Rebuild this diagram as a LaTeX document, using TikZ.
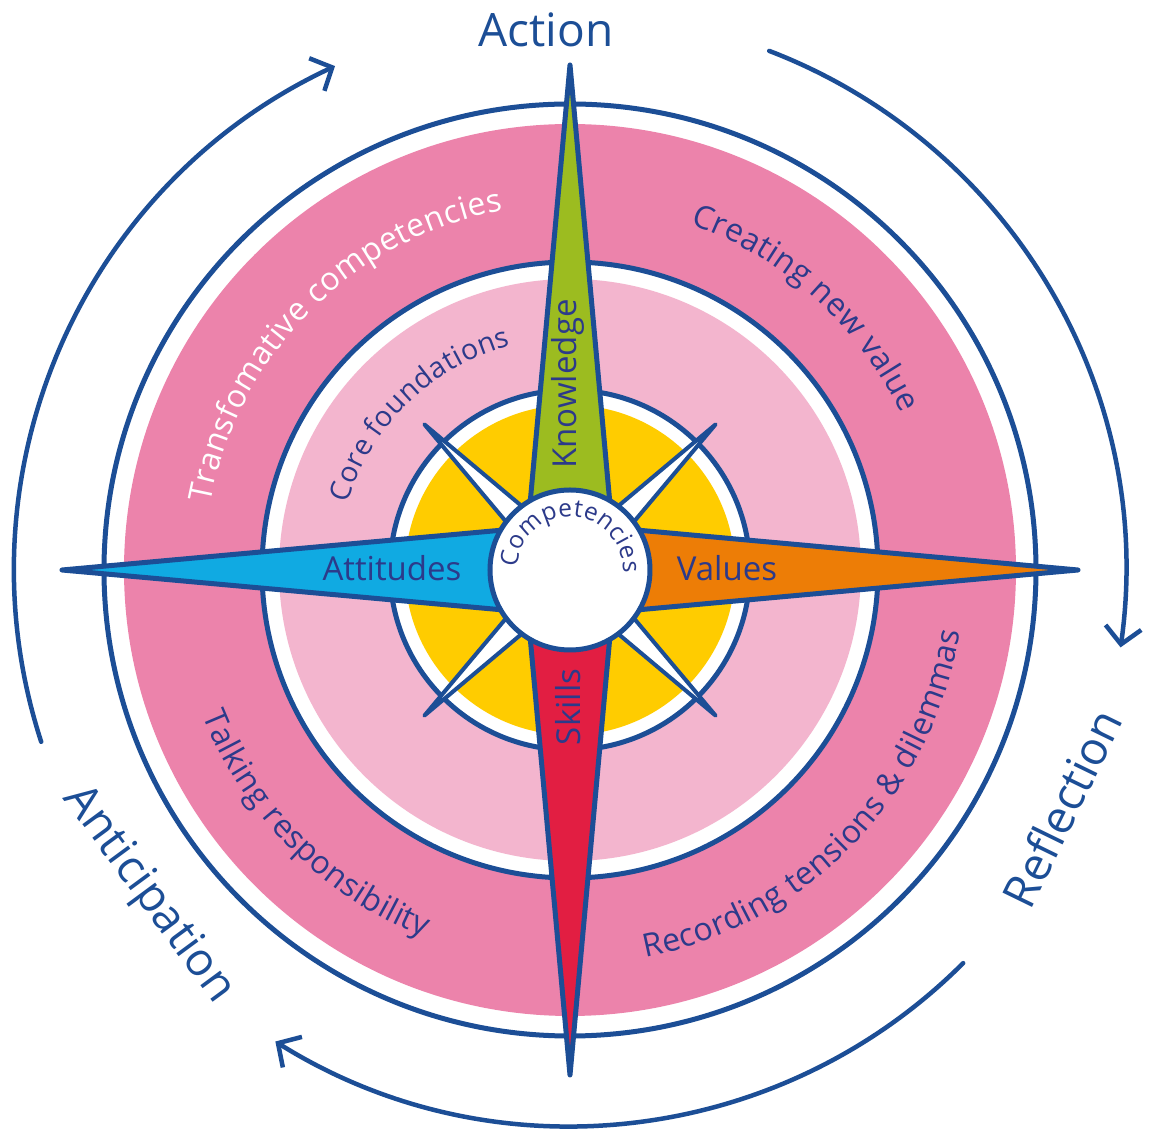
\documentclass[tikz,border=0pt]{standalone}
\usepackage{fontspec}
\setmainfont{Open Sans}
\usetikzlibrary{arrows.meta}
\definecolor{cblue}{RGB}{28,78,150}
\definecolor{tnavy}{RGB}{44,58,138}
\definecolor{pinkdark}{RGB}{236,131,171}
\definecolor{pinklight}{RGB}{243,181,206}
\definecolor{cyellow}{RGB}{255,204,0}
\definecolor{cgreen}{RGB}{156,188,32}
\definecolor{ccyan}{RGB}{16,170,226}
\definecolor{corange}{RGB}{237,125,6}
\definecolor{cred}{RGB}{226,30,66}
\newcommand\ringfont{\fontsize{32}{32}\selectfont}
\newcommand\corefont{\fontsize{28.5}{28.5}\selectfont}
\newcommand\compfont{\fontsize{24.5}{24.5}\selectfont}
% #1 font, #2 colour, #3 radius (pt), #4 centre angle,
% #5 dir (1 = clockwise, tops out; -1 = counter-clockwise, tops in), #6 chars
\newcommand\arcchars[6]{%
  \xdef\arctot{0}%
  \foreach \ch in {#6}{%
    \path (0,0) node[font=#1,inner sep=0pt,anchor=west] (arcm) {\phantom{\ch}};
    \path (arcm.east); \pgfgetlastxy{\arcex}{\arcey}%
    \pgfmathsetmacro\arctmp{\arctot+\arcex}%
    \xdef\arctot{\arctmp}%
  }%
  \pgfmathsetmacro\arcstart{#4+(#5)*0.5*\arctot/(#3)*57.29578}%
  \xdef\arcacc{0}%
  \foreach \ch in {#6}{%
    \path (0,0) node[font=#1,inner sep=0pt,anchor=west] (arcm) {\phantom{\ch}};
    \path (arcm.east); \pgfgetlastxy{\arcex}{\arcey}%
    \pgfmathsetmacro\arcth{\arcstart-(#5)*(\arcacc+0.5*\arcex)/(#3)*57.29578}%
    \pgfmathsetmacro\arcrot{\arcth-90*(#5)}%
    \node[text=#2,font=#1,inner sep=0pt,anchor=base,rotate=\arcrot] at (\arcth:#3pt) {\ch};
    \pgfmathsetmacro\arctmp{\arcacc+\arcex}%
    \xdef\arcacc{\arctmp}%
  }%
}
\begin{document}
\begin{tikzpicture}[x=1pt,y=1pt,
  ring/.style={draw=cblue,line width=5pt},
  arm/.style={draw=cblue,line width=5pt,line join=round},
  diagarm/.style={draw=cblue,fill=white,line width=4pt,line join=round},
  cycarrow/.style={draw=cblue,line width=4.5pt,line cap=round,-{Straight Barb[length=17pt,width=36pt]}},
  armlabel/.style={text=tnavy,font=\fontsize{33}{33}\selectfont,inner sep=0pt},
  biglabel/.style={text=cblue,font=\fontsize{46}{46}\selectfont,inner sep=0pt},
]
\useasboundingbox (-570,-577) rectangle (579,570);
\fill[white] (-570,-577) rectangle (579,570);
% rings
\path[ring,fill=white] (0,0) circle[radius=466pt];
\fill[pinkdark] (0,0) circle[radius=446pt];
\path[ring,fill=white] (0,0) circle[radius=308pt];
\fill[pinklight] (0,0) circle[radius=291pt];
\path[ring,fill=white] (0,0) circle[radius=180pt];
\fill[cyellow] (0,0) circle[radius=165pt];
% diagonal arms
\foreach \a in {45,135,225,315}{
  \path[diagarm,rotate=\a] (0,-18) -- (206,0) -- (0,18) -- cycle;
}
% main arms
\path[arm,fill=cgreen,rotate=90] (0,-46) -- (505,0) -- (0,46) -- cycle;
\path[arm,fill=corange] (0,-46) -- (508,0) -- (0,46) -- cycle;
\path[arm,fill=cred,rotate=-90] (0,-46) -- (505,0) -- (0,46) -- cycle;
\path[arm,fill=ccyan,rotate=180] (0,-46) -- (508,0) -- (0,46) -- cycle;
% core
\node[circle,draw=cblue,line width=5pt,fill=white,minimum size=160pt,inner sep=0pt] (core) at (0,0) {};
% arm labels
\node[armlabel,rotate=90] (know) at (-2,186) {Knowledge};
\node[armlabel] (att) at (-178,2) {Attitudes};
\node[armlabel] (val) at (157,2) {Values};
\node[armlabel,rotate=90] (ski) at (-2,-137) {Skills};
% curved texts
\arcchars{\ringfont}{white}{366}{135}{1}{T,r,a,n,s,f,o,m,a,t,i,v,e,~,c,o,m,p,e,t,e,n,c,i,e,s}
\arcchars{\ringfont}{tnavy}{366}{48}{1}{C,r,e,a,t,i,n,g,~,n,e,w,~,v,a,l,u,e}
\arcchars{\ringfont}{tnavy}{395}{-44}{-1}{R,e,c,o,r,d,i,n,g,~,t,e,n,s,i,o,n,s,~,\&,~,d,i,l,e,m,m,a,s}
\arcchars{\ringfont}{tnavy}{395}{225}{-1}{T,a,l,k,i,n,g,~,r,e,s,p,o,n,s,i,b,i,l,i,t,y}
\arcchars{\corefont}{tnavy}{232}{134}{1}{C,o,r,e,~,f,o,u,n,d,a,t,i,o,n,s}
\arcchars{\compfont}{tnavy}{53}{87}{1}{C,o,m,p,e,t,e,n,c,i,e,s}
% cycle labels
\node[biglabel] (action) at (-24,540) {Action};
\node[biglabel,rotate=64] (refl) at (492,-238) {Reflection};
\node[biglabel,rotate=-53.6] (antic) at (-422,-325) {Anticipation};
% cycle arrows
\draw[cycarrow] (198:556pt) arc[start angle=198,end angle=115,radius=556pt];
\draw[cycarrow] (69:556pt) arc[start angle=69,end angle=-8,radius=556pt];
\draw[cycarrow] (-45:556pt) arc[start angle=-45,end angle=-122,radius=556pt];
\end{tikzpicture}
\end{document}
